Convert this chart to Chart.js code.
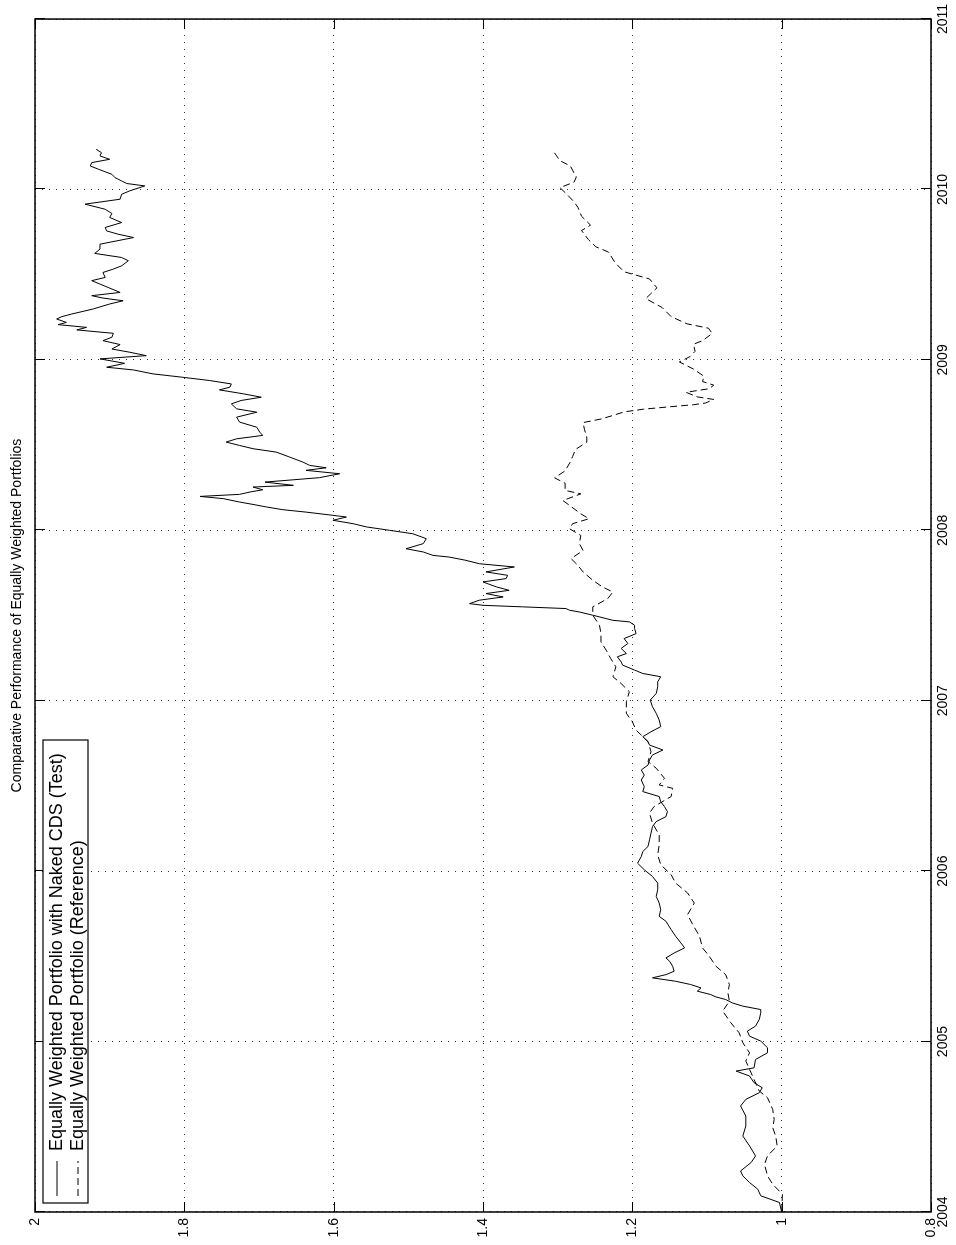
<!DOCTYPE html>
<html><head><meta charset="utf-8">
<script src="https://cdn.jsdelivr.net/npm/chart.js@4.4.0/dist/chart.umd.min.js"></script>
<style>
html,body{margin:0;padding:0;background:#fff;overflow:hidden;width:956px;height:1245px;}
#wrap{position:absolute;left:0;top:0;width:1245px;height:956px;transform-origin:0 0;transform:translate(0,1245px) rotate(-90deg);}
canvas{display:block;}
</style></head><body>
<div id="wrap"><canvas id="c" width="1245" height="956"></canvas></div>
<script>
const titleText = 'Comparative Performance of Equally Weighted Portfolios';
const seriesNames = ['Equally Weighted Portfolio with Naked CDS (Test)', 'Equally Weighted Portfolio (Reference)'];
const yearTicks = [2004, 2005, 2006, 2007, 2008, 2009, 2010, 2011];
const valueTicks = [0.8, 1, 1.2, 1.4, 1.6, 1.8, 2];

const testYears = [2004.00,2004.056,2004.095,2004.134,2004.173,2004.212,2004.241,2004.290,2004.329,2004.388,2004.446,2004.505,2004.563,2004.622,2004.661,2004.700,2004.729,2004.759,2004.798,2004.827,2004.846,2004.895,2004.934,2004.964,2005.003,2005.032,2005.061,2005.091,2005.130,2005.169,2005.188,2005.208,2005.227,2005.247,2005.262,2005.276,2005.296,2005.315,2005.335,2005.354,2005.374,2005.393,2005.413,2005.442,2005.471,2005.491,2005.520,2005.550,2005.579,2005.618,2005.657,2005.706,2005.735,2005.774,2005.813,2005.852,2005.891,2005.930,2005.969,2006.008,2006.047,2006.086,2006.115,2006.145,2006.184,2006.223,2006.262,2006.291,2006.320,2006.350,2006.379,2006.408,2006.438,2006.467,2006.496,2006.535,2006.564,2006.594,2006.623,2006.652,2006.682,2006.711,2006.740,2006.760,2006.789,2006.818,2006.848,2006.887,2006.926,2006.965,2007.004,2007.043,2007.082,2007.111,2007.141,2007.160,2007.180,2007.209,2007.228,2007.258,2007.277,2007.307,2007.336,2007.365,2007.394,2007.424,2007.443,2007.463,2007.472,2007.482,2007.502,2007.521,2007.531,2007.541,2007.551,2007.560,2007.570,2007.590,2007.609,2007.629,2007.648,2007.668,2007.697,2007.717,2007.736,2007.756,2007.785,2007.804,2007.824,2007.843,2007.853,2007.873,2007.892,2007.922,2007.951,2007.980,2008.000,2008.020,2008.039,2008.059,2008.078,2008.088,2008.107,2008.121,2008.137,2008.152,2008.166,2008.186,2008.199,2008.211,2008.225,2008.238,2008.254,2008.264,2008.283,2008.309,2008.332,2008.352,2008.367,2008.381,2008.400,2008.430,2008.459,2008.479,2008.498,2008.518,2008.537,2008.557,2008.576,2008.605,2008.635,2008.664,2008.693,2008.713,2008.742,2008.762,2008.781,2008.801,2008.824,2008.840,2008.859,2008.879,2008.898,2008.918,2008.941,2008.957,2008.980,2009.006,2009.025,2009.045,2009.064,2009.090,2009.113,2009.133,2009.156,2009.176,2009.191,2009.207,2009.220,2009.240,2009.254,2009.269,2009.299,2009.328,2009.347,2009.363,2009.377,2009.396,2009.425,2009.445,2009.465,2009.484,2009.513,2009.533,2009.552,2009.582,2009.601,2009.625,2009.650,2009.679,2009.718,2009.738,2009.757,2009.777,2009.806,2009.836,2009.859,2009.884,2009.914,2009.943,2009.972,2009.992,2010.021,2010.035,2010.050,2010.070,2010.089,2010.119,2010.138,2010.158,2010.177,2010.197,2010.216,2010.236];
const testValues = [1.000,1.003,1.028,1.032,1.043,1.052,1.055,1.041,1.035,1.043,1.052,1.048,1.048,1.055,1.048,1.030,1.026,1.037,1.043,1.061,1.037,1.035,1.019,1.019,1.028,1.043,1.046,1.035,1.030,1.028,1.028,1.052,1.066,1.075,1.088,1.095,1.113,1.108,1.122,1.142,1.173,1.155,1.144,1.146,1.150,1.155,1.144,1.130,1.135,1.142,1.148,1.155,1.164,1.162,1.164,1.168,1.166,1.166,1.173,1.184,1.193,1.188,1.186,1.179,1.177,1.175,1.173,1.168,1.155,1.153,1.157,1.162,1.164,1.186,1.184,1.188,1.184,1.188,1.179,1.177,1.173,1.159,1.177,1.179,1.186,1.175,1.162,1.164,1.168,1.173,1.176,1.168,1.166,1.166,1.162,1.186,1.197,1.213,1.215,1.220,1.208,1.215,1.206,1.211,1.195,1.197,1.197,1.204,1.226,1.235,1.253,1.271,1.284,1.289,1.347,1.400,1.418,1.405,1.373,1.396,1.365,1.382,1.400,1.369,1.367,1.396,1.358,1.405,1.423,1.445,1.467,1.480,1.503,1.480,1.476,1.494,1.525,1.556,1.574,1.601,1.583,1.601,1.637,1.668,1.690,1.708,1.726,1.748,1.779,1.726,1.712,1.695,1.708,1.654,1.692,1.619,1.592,1.637,1.610,1.632,1.641,1.659,1.677,1.708,1.726,1.744,1.730,1.695,1.699,1.703,1.726,1.730,1.703,1.730,1.737,1.724,1.697,1.721,1.753,1.739,1.737,1.766,1.802,1.842,1.868,1.904,1.880,1.913,1.851,1.873,1.897,1.886,1.909,1.897,1.895,1.944,1.931,1.969,1.958,1.971,1.964,1.951,1.922,1.900,1.882,1.909,1.924,1.886,1.902,1.913,1.924,1.906,1.909,1.895,1.884,1.875,1.884,1.920,1.913,1.913,1.868,1.889,1.904,1.906,1.884,1.900,1.897,1.906,1.933,1.886,1.884,1.873,1.853,1.877,1.884,1.893,1.897,1.915,1.926,1.924,1.900,1.913,1.911,1.918];

const refYears = [2004.00,2004.104,2004.163,2004.212,2004.280,2004.329,2004.388,2004.446,2004.495,2004.544,2004.602,2004.671,2004.710,2004.778,2004.837,2004.886,2004.934,2004.993,2005.052,2005.110,2005.179,2005.237,2005.286,2005.335,2005.393,2005.442,2005.501,2005.550,2005.618,2005.686,2005.745,2005.813,2005.872,2005.930,2005.979,2006.038,2006.096,2006.154,2006.213,2006.281,2006.340,2006.379,2006.438,2006.486,2006.506,2006.545,2006.604,2006.643,2006.701,2006.760,2006.828,2006.877,2006.926,2006.994,2007.053,2007.101,2007.141,2007.199,2007.248,2007.297,2007.345,2007.394,2007.443,2007.502,2007.551,2007.599,2007.638,2007.668,2007.707,2007.756,2007.795,2007.834,2007.882,2007.922,2007.970,2008.009,2008.039,2008.068,2008.097,2008.146,2008.175,2008.214,2008.234,2008.276,2008.308,2008.349,2008.402,2008.433,2008.475,2008.517,2008.548,2008.590,2008.632,2008.653,2008.674,2008.695,2008.711,2008.726,2008.737,2008.747,2008.768,2008.783,2008.810,2008.831,2008.852,2008.873,2008.904,2008.946,2008.988,2009.019,2009.050,2009.092,2009.113,2009.155,2009.186,2009.212,2009.254,2009.307,2009.360,2009.423,2009.475,2009.517,2009.570,2009.633,2009.664,2009.707,2009.759,2009.791,2009.843,2009.896,2009.927,2009.969,2010.011,2010.043,2010.074,2010.096,2010.138,2010.169,2010.201,2010.232];
const refValues = [1.000,0.999,1.012,1.019,1.023,1.019,1.006,1.008,1.012,1.010,1.012,1.019,1.030,1.037,1.043,1.048,1.043,1.052,1.057,1.068,1.079,1.070,1.072,1.070,1.075,1.088,1.097,1.106,1.110,1.119,1.126,1.117,1.126,1.142,1.148,1.162,1.166,1.164,1.164,1.173,1.177,1.171,1.148,1.146,1.164,1.157,1.168,1.179,1.175,1.179,1.195,1.200,1.208,1.208,1.204,1.215,1.226,1.222,1.229,1.235,1.242,1.242,1.244,1.253,1.253,1.233,1.226,1.240,1.253,1.266,1.273,1.282,1.266,1.271,1.269,1.284,1.280,1.258,1.269,1.284,1.293,1.269,1.290,1.290,1.304,1.290,1.283,1.280,1.276,1.261,1.261,1.264,1.266,1.242,1.226,1.211,1.185,1.147,1.118,1.102,1.091,1.113,1.128,1.097,1.091,1.106,1.104,1.118,1.137,1.123,1.116,1.118,1.106,1.093,1.098,1.127,1.148,1.160,1.182,1.167,1.177,1.211,1.223,1.232,1.249,1.259,1.268,1.256,1.268,1.273,1.278,1.287,1.297,1.278,1.275,1.278,1.283,1.297,1.302,1.307];

const FONT = '"Liberation Sans", Arial, Helvetica, sans-serif';
const TICK_PX = 14, TITLE_PX = 14, LEGEND_PX = 18;

const toXY = (xs, ys) => xs.map((x, i) => ({x: x, y: ys[i]}));

const framePlugin = {
  id: 'frame',
  afterDatasetsDraw(chart) {
    const {ctx, chartArea: a, scales: {x, y}} = chart;
    ctx.save();
    ctx.strokeStyle = '#000';
    ctx.lineWidth = 1;
    ctx.setLineDash([]);
    const tl = 10;
    const seg = (x1, y1, x2, y2) => { ctx.beginPath(); ctx.moveTo(x1, y1); ctx.lineTo(x2, y2); ctx.stroke(); };
    yearTicks.forEach(v => {
      const p = Math.round(x.getPixelForValue(v)) + 0.5;
      seg(p, a.bottom, p, a.bottom - tl);
      seg(p, a.top, p, a.top + tl);
    });
    valueTicks.forEach(v => {
      const p = Math.round(y.getPixelForValue(v)) + 0.5;
      seg(a.left, p, a.left + tl, p);
      seg(a.right, p, a.right - tl, p);
    });
    ctx.lineWidth = 1.5;
    ctx.strokeRect(a.left, a.top, a.right - a.left, a.bottom - a.top);

    // title, centred on the plot area
    ctx.font = TITLE_PX + 'px ' + FONT;
    ctx.fillStyle = '#000';
    ctx.textAlign = 'center';
    ctx.textBaseline = 'middle';
    ctx.fillText(titleText, (a.left + a.right) / 2, a.top - 18);

    // legend
    const lx = a.left + 9, ly = a.top + 8, lw = 463, lh = 45;
    ctx.fillStyle = '#fff';
    ctx.fillRect(lx, ly, lw, lh);
    ctx.lineWidth = 1.2;
    ctx.strokeRect(lx, ly, lw, lh);
    ctx.font = LEGEND_PX + 'px ' + FONT;
    ctx.fillStyle = '#000';
    ctx.textBaseline = 'middle';
    ctx.textAlign = 'left';
    const rows = [ly + 14, ly + 35];
    const dashes = [[], [7, 4]];
    rows.forEach((ry, i) => {
      ctx.lineWidth = 1;
      ctx.setLineDash(dashes[i]);
      seg(lx + 7, ry, lx + 42, ry);
      ctx.setLineDash([]);
      ctx.fillText(seriesNames[i], lx + 52, ry);
    });
    ctx.restore();
  }
};

new Chart(document.getElementById('c'), {
  type: 'line',
  data: {
    datasets: [
      {label: seriesNames[0], data: toXY(testYears, testValues), borderColor: '#000', borderWidth: 1, pointRadius: 0, tension: 0, fill: false},
      {label: seriesNames[1], data: toXY(refYears, refValues), borderColor: '#000', borderWidth: 1, borderDash: [7, 4], pointRadius: 0, tension: 0, fill: false}
    ]
  },
  options: {
    responsive: false,
    animation: false,
    devicePixelRatio: 1,
    parsing: false,
    layout: {padding: {left: 0, right: 18, top: 35, bottom: 0}},
    plugins: {
      legend: {display: false},
      tooltip: {enabled: false},
      title: {display: false}
    },
    scales: {
      x: {
        type: 'linear', min: 2004, max: 2011,
        afterBuildTicks: s => { s.ticks = yearTicks.map(v => ({value: v})); },
        afterFit: s => { s.height = 25; },
        ticks: {color: '#000', font: {family: FONT, size: TICK_PX}, padding: 4, maxRotation: 0, autoSkip: false, callback: v => String(v)},
        grid: {color: '#333', lineWidth: 1, drawTicks: false},
        border: {display: false, dash: [1, 6]}
      },
      y: {
        type: 'linear', min: 0.8, max: 2,
        afterBuildTicks: s => { s.ticks = valueTicks.map(v => ({value: v})); },
        afterFit: s => { s.width = 33; },
        ticks: {color: '#000', font: {family: FONT, size: TICK_PX}, padding: 6, autoSkip: false, callback: v => String(+Number(v).toFixed(1))},
        grid: {color: '#333', lineWidth: 1, drawTicks: false},
        border: {display: false, dash: [1, 6]}
      }
    }
  },
  plugins: [framePlugin]
});
</script>
</body></html>
